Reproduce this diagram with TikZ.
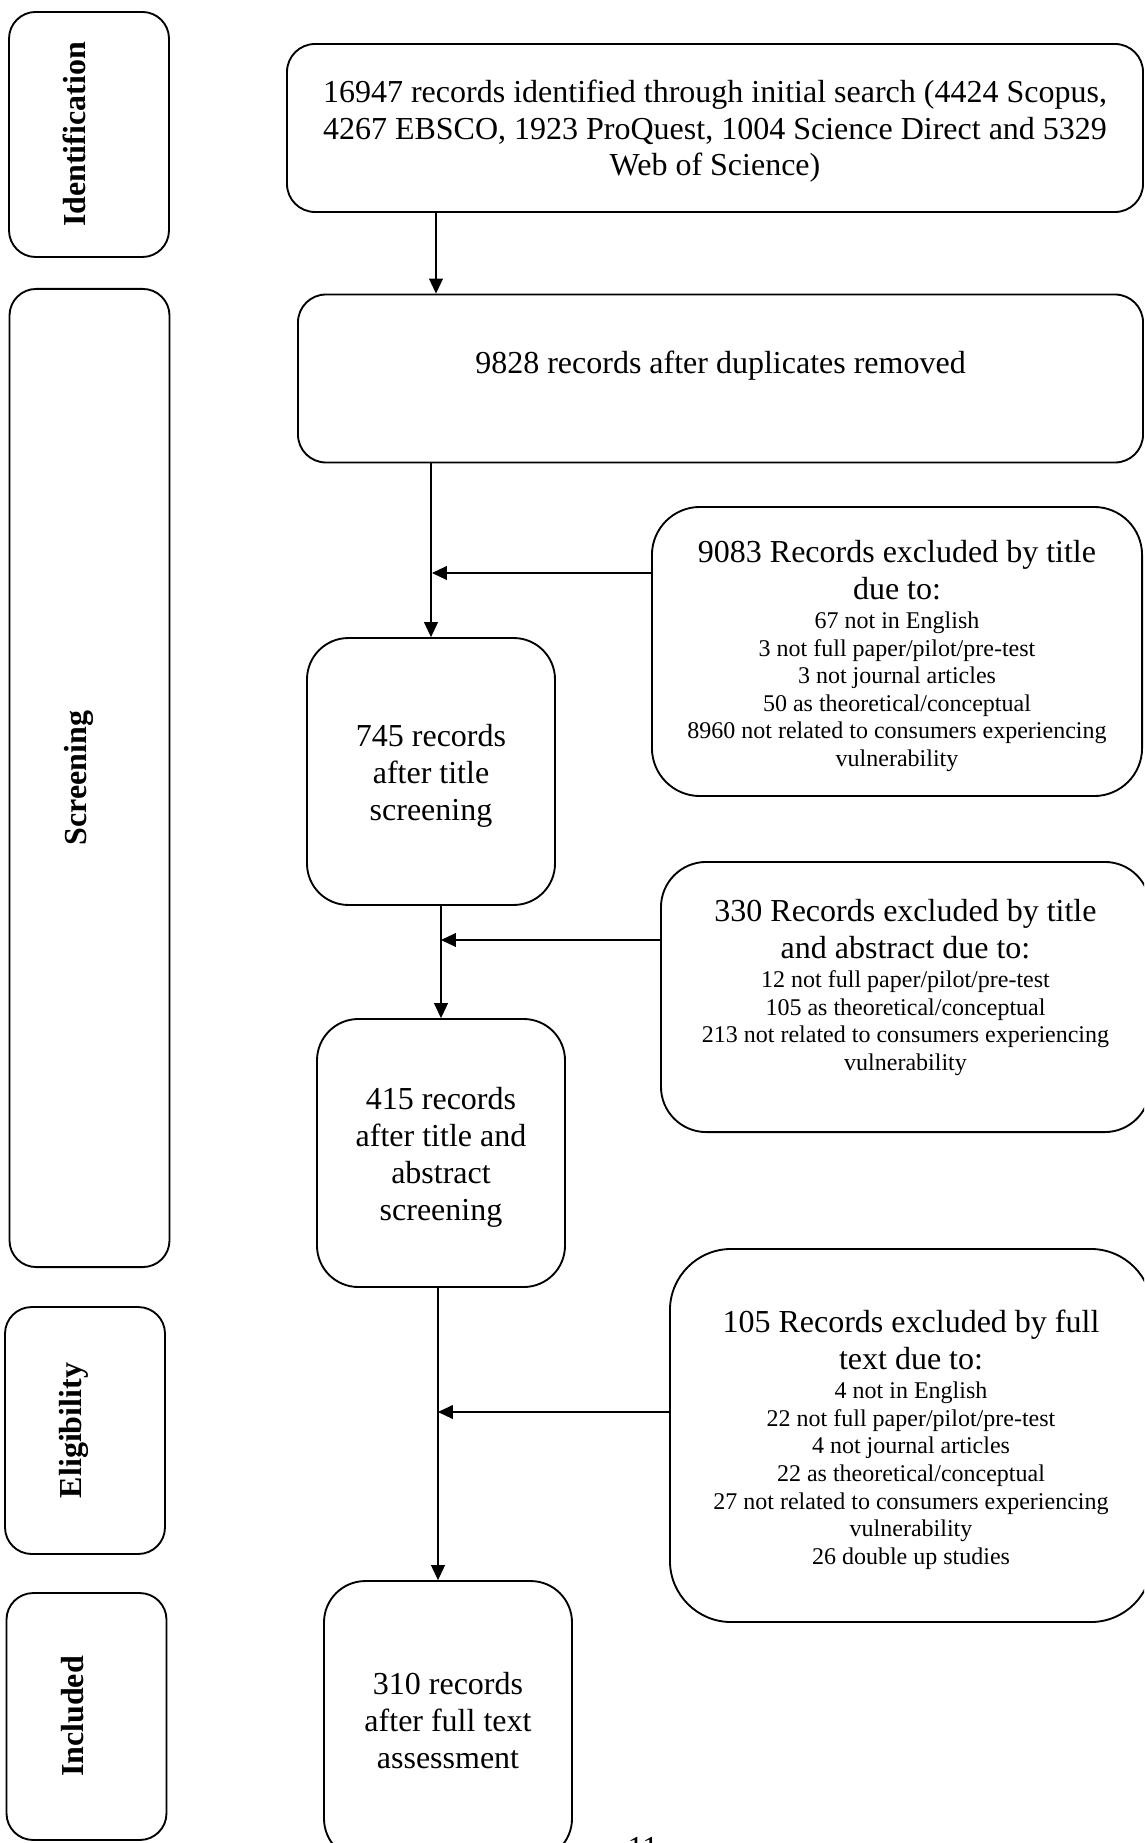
\documentclass[tikz,border=0pt]{standalone}
\usepackage{fontspec}
\setmainfont{Liberation Serif}
\usetikzlibrary{arrows.meta}

\begin{document}
\begin{tikzpicture}[
    x=0.375pt, y=-0.375pt,
    stage/.style={rectangle, draw, line width=0.7pt, rounded corners=10pt, rotate=90, minimum height=60pt, text height=8pt, text depth=10.6pt, font=\fontsize{12}{13.8}\selectfont\bfseries},
    box/.style={rectangle, draw, line width=0.7pt, align=flush center, font=\fontsize{12}{13.8}\selectfont},
    wide/.style={box, rounded corners=10.5pt, minimum height=63pt},
    flow/.style={box, rounded corners=15.5pt, minimum width=93pt, minimum height=100.5pt, text width=85pt},
    excl/.style={box, rounded corners=18pt, text width=170pt},
    arrow/.style={-{Triangle[length=5.6pt, width=5.2pt]}, line width=0.45pt}
]

% Page frame
\path[use as bounding box, clip] (0,0) rectangle (1144,1843);

% Stage labels
\node[stage, minimum width=91.9pt] (idStage) at (89,134.5) {Identification};
\node[stage, minimum width=366.8pt] (scStage) at (89.5,778) {Screening};
\node[stage, minimum width=92.6pt] (elStage) at (85,1430.5) {Eligibility};
\node[stage, minimum width=92.6pt] (inStage) at (86.5,1716.5) {Included};

% Records kept
\node[wide, minimum width=321pt, text width=312pt] (bxSearch) at (715,128) {\rule{0pt}{10.9pt}16947 records identified through initial search (4424 Scopus,\\4267 EBSCO, 1923 ProQuest, 1004 Science Direct and 5329\\Web of Science)};
\node[wide, minimum width=316.9pt, text depth=12.4pt] (bxDedup) at (720.5,378.5) {9828 records after duplicates removed};
\node[flow, minimum height=100.1pt] (bx745) at (431,771.5) {\rule{0pt}{11.7pt}745 records\\after title\\screening};
\node[flow] (bx415) at (441,1153) {\rule{0pt}{11.7pt}415 records\\after title and\\abstract\\screening};
\node[flow, minimum height=104.6pt] (bx310) at (448,1720.5) {310 records\\after full text\\assessment};

% Records excluded
\node[excl, minimum width=183.8pt, minimum height=108.4pt] (exTitle) at (897,651.5) {\rule{0pt}{11.7pt}9083 Records excluded by title\\due to:\par\vspace{0.6pt}
  {\fontsize{9}{10.35}\selectfont 67 not in English\\3 not full paper/pilot/pre-test\\3 not journal articles\\50 as theoretical/conceptual\\8960 not related to consumers experiencing\\vulnerability\par}};
\node[excl, minimum width=183.4pt, minimum height=101.3pt, rounded corners=17pt] (exAbs) at (905.5,997) {330 Records excluded by title\\and abstract due to:\par\vspace{0.6pt}
  {\fontsize{9}{10.35}\selectfont 12 not full paper/pilot/pre-test\\105 as theoretical/conceptual\\213 not related to consumers experiencing\\vulnerability\rule[-9pt]{0pt}{9pt}\par}};
\node[excl, minimum width=180.8pt, minimum height=139.9pt, rounded corners=23pt] (exFull) at (911,1435.5) {\rule{0pt}{11.7pt}105 Records excluded by full\\text due to:\par\vspace{0.6pt}
  {\fontsize{9}{10.35}\selectfont 4 not in English\\22 not full paper/pilot/pre-test\\4 not journal articles\\22 as theoretical/conceptual\\27 not related to consumers experiencing\\vulnerability\\26 double up studies\par}};

% Page number
\node[anchor=north, inner sep=0pt, font=\fontsize{12}{13.8}\selectfont] (pageNo) at (643,1837) {11};

% Junctions
\coordinate (jTop) at (436,250);
\coordinate (jTitle) at (432,573);
\coordinate (jAbs) at (441,940);
\coordinate (jFull) at (438,1412);

% Arrows
\draw[arrow] (bxSearch.south -| jTop) -- (bxDedup.north -| jTop);
\draw[arrow] (bxDedup.south -| bx745.north) -- (bx745.north);
\draw[arrow] (exTitle.west |- jTitle) -- (jTitle);
\draw[arrow] (bx745.south -| bx415.north) -- (bx415.north);
\draw[arrow] (exAbs.west |- jAbs) -- (jAbs);
\draw[arrow] (bx415.south -| jFull) -- (bx310.north -| jFull);
\draw[arrow] (exFull.west |- jFull) -- (jFull);

\end{tikzpicture}
\end{document}
